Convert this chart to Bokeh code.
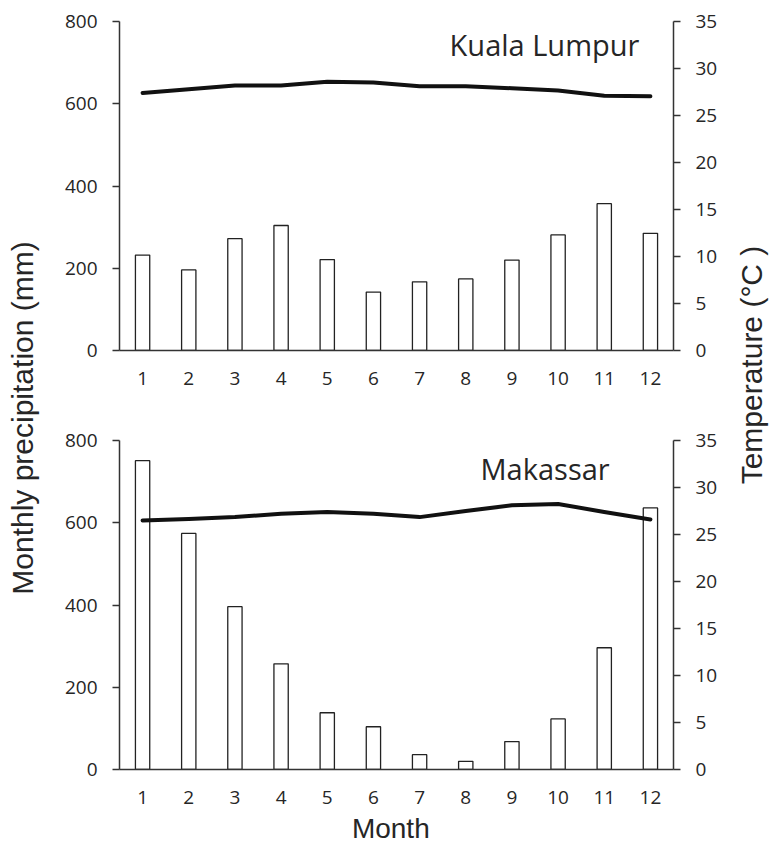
import math
from bokeh.plotting import figure
from bokeh.models import Range1d, LinearAxis, FixedTicker, Label
from bokeh.layouts import row, column
from bokeh.embed import file_html
from bokeh.resources import INLINE

months = list(range(1, 13))
month_labels = [str(m) for m in months]

kl_precip = [232, 196, 272, 304, 221, 142, 167, 174, 220, 281, 357, 285]
kl_temp = [27.4, 27.8, 28.2, 28.2, 28.6, 28.5, 28.1, 28.1, 27.9, 27.65, 27.1, 27.05]

mk_precip = [751, 574, 396, 257, 138, 104, 36, 20, 68, 123, 296, 636]
mk_temp = [26.5, 26.65, 26.85, 27.2, 27.4, 27.2, 26.85, 27.5, 28.1, 28.25, 27.4, 26.6]

precip_ticks = [0, 200, 400, 600, 800]
temp_ticks = [0, 5, 10, 15, 20, 25, 30, 35]

TICK_FONT = "Open Sans"
TITLE_FONT = "Liberation Sans"
TXT = "#262626"
AX = "#333333"


def style_axis(ax, ticks):
    ax.ticker = FixedTicker(ticks=ticks)
    ax.axis_line_color = AX
    ax.axis_line_width = 1.5
    ax.major_tick_line_color = AX
    ax.major_tick_line_width = 1.5
    ax.major_tick_in = 0
    ax.major_tick_out = 7
    ax.minor_tick_line_color = None
    ax.major_label_text_font = TICK_FONT
    ax.major_label_text_font_size = "19px"
    ax.major_label_text_color = TXT
    ax.major_label_standoff = 15


def panel(precip, temp, name, name_x, name_y, height, border_top, border_bottom):
    p = figure(width=680, height=height, x_range=Range1d(0.5, 12.5), y_range=Range1d(0, 800),
               toolbar_location=None, output_backend="svg", title=None,
               min_border_left=74, min_border_right=52,
               min_border_top=border_top, min_border_bottom=border_bottom,
               outline_line_color=None)
    p.extra_y_ranges = {"temp": Range1d(0, 35)}
    p.xgrid.visible = False
    p.ygrid.visible = False

    style_axis(p.yaxis[0], precip_ticks)
    rax = LinearAxis(y_range_name="temp")
    style_axis(rax, temp_ticks)
    p.add_layout(rax, "right")

    xa = p.xaxis[0]
    xa.ticker = FixedTicker(ticks=months)
    xa.major_label_overrides = {m: l for m, l in zip(months, month_labels)}
    xa.axis_line_color = AX
    xa.axis_line_width = 1.5
    xa.major_tick_line_color = None
    xa.minor_tick_line_color = None
    xa.major_label_text_font = TICK_FONT
    xa.major_label_text_font_size = "19px"
    xa.major_label_text_color = TXT
    xa.major_label_standoff = 15

    p.vbar(x=months, top=precip, width=0.31, bottom=0, fill_color="white",
           line_color="#222222", line_width=1.3)
    p.line(x=months, y=temp, y_range_name="temp", line_color="#111111",
           line_width=4, line_join="round", line_cap="round")

    p.add_layout(Label(x=name_x, y=name_y, text=name, text_font=TICK_FONT,
                       text_font_size="29px", text_color=TXT,
                       text_align="left", text_baseline="alphabetic"))
    return p


H = 843
TOP_H = 410
BOT_H = 30 + 329 + 42

top = panel(kl_precip, kl_temp, "Kuala Lumpur", 7.65, 744, TOP_H, 21, TOP_H - 21 - 329)
bottom = panel(mk_precip, mk_temp, "Makassar", 8.32, 731, BOT_H, 30, BOT_H - 30 - 329)


def text_strip(width, height, x, y, text, font, size, angle, baseline="alphabetic"):
    f = figure(width=width, height=height, x_range=Range1d(0, width), y_range=Range1d(0, height),
               toolbar_location=None, output_backend="svg", title=None,
               x_axis_location=None, y_axis_location=None, min_border=0,
               outline_line_color=None)
    f.xgrid.visible = False
    f.ygrid.visible = False
    f.add_layout(Label(x=x, y=y, text=text, angle=angle, text_font=font,
                       text_font_size=size, text_color=TXT,
                       text_align="center", text_baseline=baseline))
    return f


STRIP_H = H - TOP_H - BOT_H
month_strip = text_strip(680, STRIP_H, 333, STRIP_H / 2 - 1, "Month", TITLE_FONT, "28px", 0, "middle")
left = text_strip(45, H, 22, H - 417.5, "Monthly precipitation (mm)", TITLE_FONT, "30px", math.pi / 2)
right = text_strip(45, H, 26, H - 364.5, "Temperature (\u00b0C )", TITLE_FONT, "30px", math.pi / 2)

layout = row(left, column(top, bottom, month_strip), right)

open("out.html", "w").write(file_html(layout, INLINE))
